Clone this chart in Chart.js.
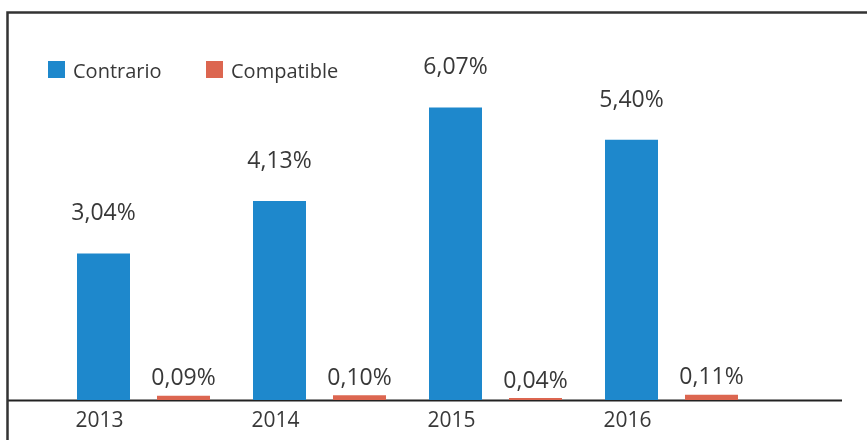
<!DOCTYPE html>
<html>
<head>
<meta charset="utf-8">
<script src="https://cdn.jsdelivr.net/npm/chart.js@4"></script>
<style>
	html, body { margin: 0; padding: 0; background: #fff; }
	canvas { display: block; }
</style>
</head>
<body>
<canvas id="chart" width="867" height="440"></canvas>
<script>
'use strict';

const years = ['2013', '2014', '2015', '2016'];
const contrario = [3.04, 4.13, 6.07, 5.40];
const compatible = [0.09, 0.10, 0.04, 0.11];

const blue = '#1e88cc';
const orange = '#dc6650';
const textColor = '#383838';
const fontFamily = "'Open Sans', 'Noto Sans', sans-serif";

function formatPct(v) {
	return v.toFixed(2).replace('.', ',') + '%';
}

// frame, axis line, legend, value labels and year labels
const decorations = {
	id: 'decorations',
	beforeDatasetsDraw(chart) {
		const ctx = chart.ctx;
		const area = chart.chartArea;
		ctx.save();
		// base line, under the bars
		ctx.strokeStyle = '#222222';
		ctx.lineWidth = 2;
		ctx.beginPath();
		ctx.moveTo(7.5, area.bottom + 0.5);
		ctx.lineTo(842, area.bottom + 0.5);
		ctx.stroke();
		ctx.restore();
	},
	afterDatasetsDraw(chart) {
		const ctx = chart.ctx;
		const area = chart.chartArea;
		ctx.save();

		// frame (top and left)
		ctx.strokeStyle = '#333333';
		ctx.lineWidth = 2.5;
		ctx.beginPath();
		ctx.moveTo(7.5, 440);
		ctx.lineTo(7.5, 12.5);
		ctx.lineTo(867, 12.5);
		ctx.stroke();

		// legend
		ctx.font = '20px ' + fontFamily;
		ctx.textBaseline = 'alphabetic';
		ctx.textAlign = 'left';
		const legendItems = [[48, 73], [206, 231]];
		chart.data.datasets.forEach(function (ds, i) {
			ctx.fillStyle = ds.backgroundColor;
			ctx.fillRect(legendItems[i][0], 61, 17, 17);
			ctx.fillStyle = textColor;
			ctx.fillText(ds.label, legendItems[i][1], 78);
		});

		// value labels
		ctx.font = '23px ' + fontFamily;
		ctx.textAlign = 'center';
		ctx.fillStyle = textColor;
		const gaps = [33, 10.5];
		chart.data.datasets.forEach(function (ds, i) {
			chart.getDatasetMeta(i).data.forEach(function (bar, j) {
				ctx.fillText(formatPct(ds.data[j]), bar.x, bar.y - gaps[i]);
			});
		});

		// year labels under the blue bars
		ctx.font = '21px ' + fontFamily;
		chart.getDatasetMeta(0).data.forEach(function (bar, j) {
			ctx.fillText(years[j], bar.x - 4, area.bottom + 27);
		});

		ctx.restore();
	}
};

new Chart(document.getElementById('chart'), {
	type: 'bar',
	data: {
		labels: years,
		datasets: [{
			label: 'Contrario',
			data: contrario,
			backgroundColor: blue,
			categoryPercentage: 0.909,
			barPercentage: 0.6625
		}, {
			label: 'Compatible',
			data: compatible,
			backgroundColor: orange,
			categoryPercentage: 0.909,
			barPercentage: 0.6625
		}]
	},
	options: {
		responsive: false,
		animation: false,
		layout: {
			padding: { left: 55.5, right: 107.5, top: 14.4, bottom: 40 }
		},
		scales: {
			x: { display: false },
			y: { display: false, min: 0, max: 8 }
		},
		plugins: {
			legend: { display: false },
			tooltip: { enabled: false }
		}
	},
	plugins: [decorations]
});
</script>
</body>
</html>
